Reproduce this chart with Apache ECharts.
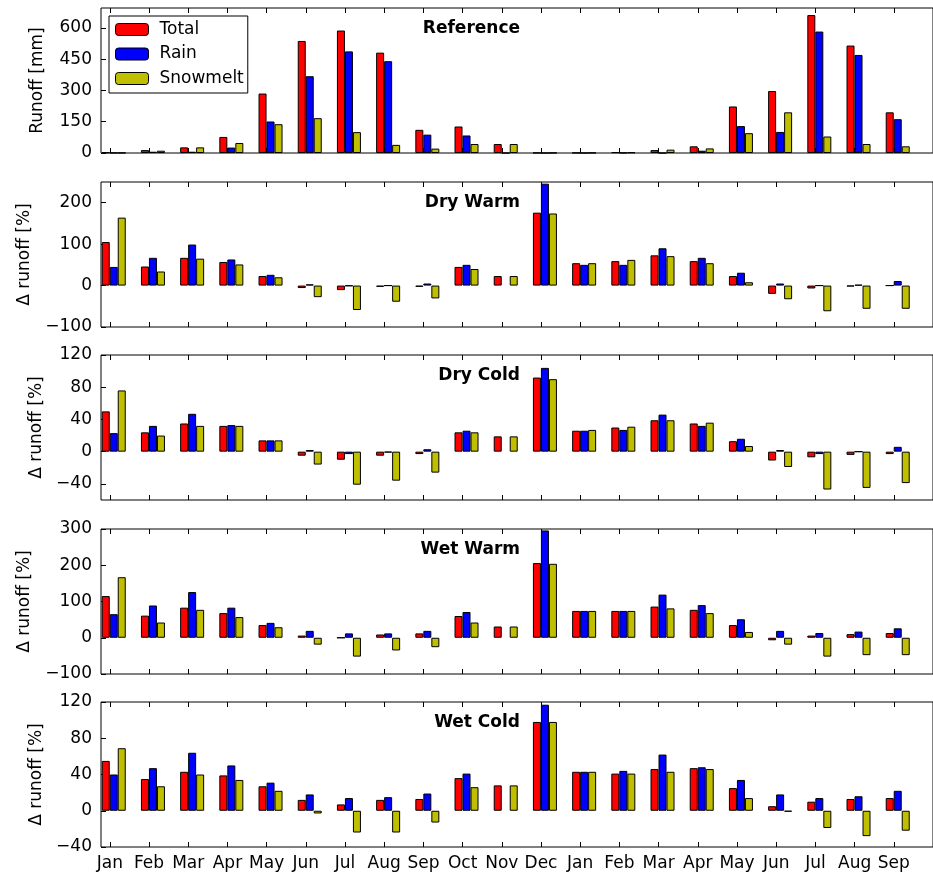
<!DOCTYPE html>
<html>
<head>
<meta charset="utf-8">
<script src="https://cdn.jsdelivr.net/npm/echarts@6/dist/echarts.min.js"></script>
<style>
html,body{margin:0;padding:0;background:#fff;}
#chart{width:933px;height:879px;}
</style>
</head>
<body>
<div id="chart"></div>
<script>
// ---- Data ----
const months = ['Jan','Feb','Mar','Apr','May','Jun','Jul','Aug','Sep','Oct','Nov','Dec','Jan','Feb','Mar','Apr','May','Jun','Jul','Aug','Sep'];
const seriesNames = ['Total','Rain','Snowmelt'];
const panelTitles = ['Reference','Dry Warm','Dry Cold','Wet Warm','Wet Cold'];
const axisNames = ['Runoff [mm]','\u0394 runoff [%]','\u0394 runoff [%]','\u0394 runoff [%]','\u0394 runoff [%]'];

const refTotal = [3,14,27,77,285,537,587,481,111,127,43,1,1,4,14,32,223,297,661,515,195];
const refRain  = [1,6,6,26,151,368,487,440,88,84,0,0,0,1,0,11,129,101,582,470,162];
const refSnow  = [1,11,27,48,138,167,100,39,21,43,43,1,1,3,16,22,95,195,79,43,32];

const dryWarmTotal = [105,46,67,57,23,-6,-11,-3,-3,45,23,176,54,59,73,59,23,-20,-7,-2,0];
const dryWarmRain  = [45,67,99,63,26,3,-1,0,5,50,null,246,50,50,90,67,31,5,0,2,11];
const dryWarmSnow  = [164,34,65,51,20,-28,-59,-39,-31,40,23,174,54,62,71,54,8,-33,-62,-56,-56];

const dryColdTotal = [50,24,35,32,14,-5,-10,-5,-3,24,19,92,26,30,39,35,13,-11,-7,-4,-3];
const dryColdRain  = [23,32,47,33,14,2,-3,-1,3,26,null,104,26,27,46,32,16,2,-3,0,6];
const dryColdSnow  = [76,20,32,32,14,-16,-41,-36,-26,24,19,90,27,31,39,36,7,-19,-47,-45,-39];

const wetWarmTotal = [115,61,83,68,35,6,0,9,12,60,31,206,74,74,86,77,35,-7,6,10,13];
const wetWarmRain  = [65,89,126,83,41,19,12,12,19,71,null,296,74,74,119,90,51,19,13,17,26];
const wetWarmSnow  = [167,42,77,57,29,-19,-52,-35,-26,42,31,204,74,74,81,68,16,-19,-52,-48,-48];

const wetColdTotal = [55,35,43,39,27,12,7,12,13,36,28,98,43,41,46,47,25,5,10,13,14];
const wetColdRain  = [40,47,64,50,31,18,14,15,19,41,null,117,43,44,62,48,34,18,14,16,22];
const wetColdSnow  = [69,27,40,34,22,-3,-24,-24,-13,26,28,98,43,41,43,46,14,-1,-19,-28,-22];

const refTicks = [0,150,300,450,600];
const dryWarmTicks = [-100,0,100,200];
const dryColdTicks = [-40,0,40,80,120];
const wetWarmTicks = [-100,0,100,200,300];
const wetColdTicks = [-40,0,40,80,120];

const yMins = [0,-100,-60,-100,-40];
const yMaxs = [695,250,120,300,120];

// ---- Build ----
const panels = [
  [refTotal, refRain, refSnow],
  [dryWarmTotal, dryWarmRain, dryWarmSnow],
  [dryColdTotal, dryColdRain, dryColdSnow],
  [wetWarmTotal, wetWarmRain, wetWarmSnow],
  [wetColdTotal, wetColdRain, wetColdSnow]
];
const yTicks = [refTicks, dryWarmTicks, dryColdTicks, wetWarmTicks, wetColdTicks];
const colors = ['#ff0000','#0000ff','#bfbf00'];
const FONT = 'DejaVu Sans';

const gridTops = [8, 182, 355, 529, 702];
const gridH = 145;
const xMin = -0.325, xMax = 20.9;
const tickPos = months.map((m, i) => i - 0.1);
const nameGaps = [55, 68, 55, 68, 55];

const grid = [], xAxis = [], yAxis = [], series = [], title = [];
const minus = v => String(v).replace('-', '\u2212');
const makeTick = vals => ({show: true, inside: true, length: 5, customValues: vals.slice(),
  lineStyle: {color: '#000', width: 1}});

gridTops.forEach((t, k) => {
  grid.push({left: 101, top: t, width: 849, height: gridH, show: true,
    borderColor: '#000', borderWidth: 1, backgroundColor: 'transparent'});
});
gridTops.forEach((t, k) => {
  xAxis.push({
    gridIndex: k, type: 'value', position: 'bottom', min: xMin, max: xMax,
    axisLine: {show: false, onZero: false},
    axisTick: makeTick(tickPos),
    axisLabel: {show: k === 4, customValues: tickPos.slice(), fontSize: 17, fontFamily: FONT, color: '#000', margin: 8,
      formatter: v => months[Math.round(v + 0.1)] || ''},
    splitLine: {show: false}
  });
});
gridTops.forEach((t, k) => {
  xAxis.push({
    gridIndex: k, type: 'value', position: 'top', min: xMin, max: xMax,
    axisLine: {show: false, onZero: false},
    axisTick: makeTick(tickPos),
    axisLabel: {show: false, customValues: tickPos.slice()},
    splitLine: {show: false}
  });
});
gridTops.forEach((t, k) => {
  yAxis.push({
    gridIndex: k, type: 'value', position: 'left', min: yMins[k], max: yMaxs[k],
    axisLine: {show: false, onZero: false},
    axisTick: makeTick(yTicks[k]),
    axisLabel: {customValues: yTicks[k].slice(), fontSize: 17, fontFamily: FONT, color: '#000', margin: 9, formatter: minus},
    splitLine: {show: false},
    name: axisNames[k], nameLocation: 'middle', nameGap: nameGaps[k],
    nameTextStyle: {fontSize: 17, fontFamily: FONT, color: '#000'}
  });
  title.push({
    text: panelTitles[k], right: 413, top: t + 12, padding: 0,
    textStyle: {fontSize: 17, fontWeight: 'bold', fontFamily: FONT, color: '#000'}
  });
  panels[k].forEach((vals, s) => {
    series.push({
      type: 'bar', name: seriesNames[s], xAxisIndex: k, yAxisIndex: k,
      data: vals.map((v, i) => [i, v]),
      barWidth: 8, barGap: '0%',
      itemStyle: {color: colors[s], borderColor: '#000', borderWidth: 1},
      emphasis: {disabled: true}
    });
  });
});

const chart = echarts.init(document.getElementById('chart'), null, {renderer: 'canvas'});
chart.setOption({
  animation: false,
  backgroundColor: '#fff',
  textStyle: {fontFamily: FONT},
  title: title,
  legend: {
    data: seriesNames, orient: 'vertical', left: 109, top: 16,
    padding: [5, 4, 6, 6], itemWidth: 33, itemHeight: 12, itemGap: 7.5,
    borderColor: '#000', borderWidth: 1, backgroundColor: '#fff',
    textStyle: {fontSize: 17, fontFamily: FONT, color: '#000', lineHeight: 17, padding: [0, 0, 0, 6]},
    itemStyle: {borderColor: '#000', borderWidth: 1}
  },
  grid: grid, xAxis: xAxis, yAxis: yAxis, series: series
});
</script>
</body>
</html>
